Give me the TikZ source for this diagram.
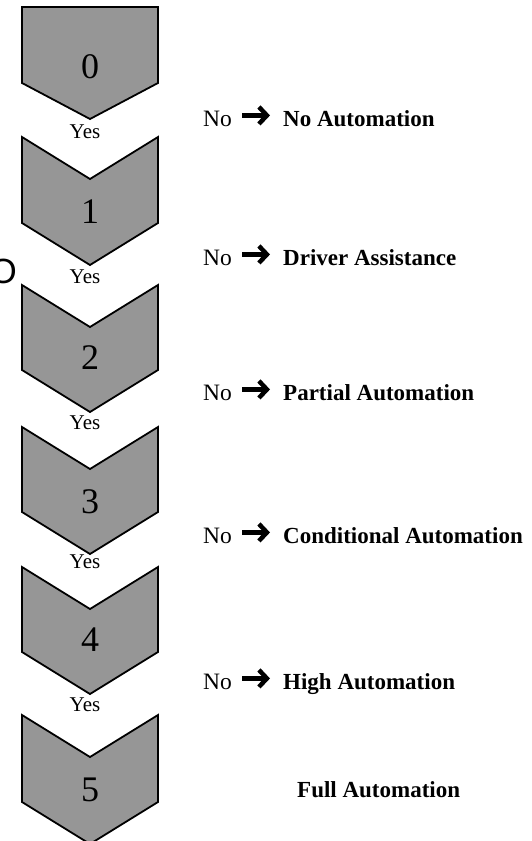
\documentclass[tikz,border=0pt]{standalone}
\usepackage{fontspec}
\setmainfont{Liberation Serif}
\newfontfamily\lettersans{Liberation Sans}
\usetikzlibrary{arrows.meta}
\definecolor{chevgray}{RGB}{150,150,150}

\tikzset{
	chevron/.style={draw=black,fill=chevgray,line width=1.8pt,line join=miter},
	levelnum/.style={font=\fontsize{36}{36}\selectfont,inner sep=0pt},
	yeslabel/.style={font=\fontsize{21}{21}\selectfont,inner sep=0pt},
	nolabel/.style={font=\fontsize{23.5}{23.5}\selectfont,inner sep=0pt,anchor=base west},
	levelname/.style={font=\fontsize{23}{23}\selectfont\bfseries,inner sep=0pt,anchor=base west},
	noarrow/.style={-{Straight Barb[length=8pt,width=17pt]},line width=4.5pt,shorten <=10pt,shorten >=13pt}
}

\begin{document}
\begin{tikzpicture}[x=1pt,y=-1pt]
		\useasboundingbox (0,0) rectangle (531,841);
		\clip (0,0) rectangle (531,841);
		% level chevrons
		\draw[chevron] (22,7) -- (158,7) -- (158,83) -- (90,119) -- (22,83) -- cycle;
		\foreach \top/\side in {137/223,285/370,427/512,567/652,715/802}
			\draw[chevron] (22,\top) -- (90,\top+42) -- (158,\top) -- (158,\side) -- (90,\side+42) -- (22,\side) -- cycle;
		\foreach \n/\y in {0/67,1/212,2/358,3/502,4/640,5/790}
			\node[levelnum] (num\n) at (90,\y) {\n};
		\foreach \n/\y in {0/132,1/277,2/423,3/562,4/705}
			\node[yeslabel] (yes\n) at (85,\y) {Yes};
		% answers on the right
		\node[nolabel] (no0) at (203,126) {No};
		\node[levelname] (lvl0) at (283,126) {No Automation};
		\node[nolabel] (no1) at (203,265) {No};
		\node[levelname] (lvl1) at (283,265) {Driver Assistance};
		\node[nolabel] (no2) at (203,400) {No};
		\node[levelname] (lvl2) at (283,400) {Partial Automation};
		\node[nolabel] (no3) at (203,543) {No};
		\node[levelname] (lvl3) at (283,543) {Conditional Automation};
		\node[nolabel] (no4) at (203,689) {No};
		\node[levelname] (lvl4) at (283,689) {High Automation};
		\node[levelname] (lvl5) at (297,797) {Full Automation};
		\foreach \n in {0,...,4}
			\draw[noarrow] ([yshift=3pt]no\n.east) -- ([yshift=3pt]no\n.east -| lvl\n.west);
		\node[font=\lettersans\fontsize{35}{35}\selectfont,inner sep=0pt,anchor=east] (cut) at (17,271) {O};
	\end{tikzpicture}
\end{document}
